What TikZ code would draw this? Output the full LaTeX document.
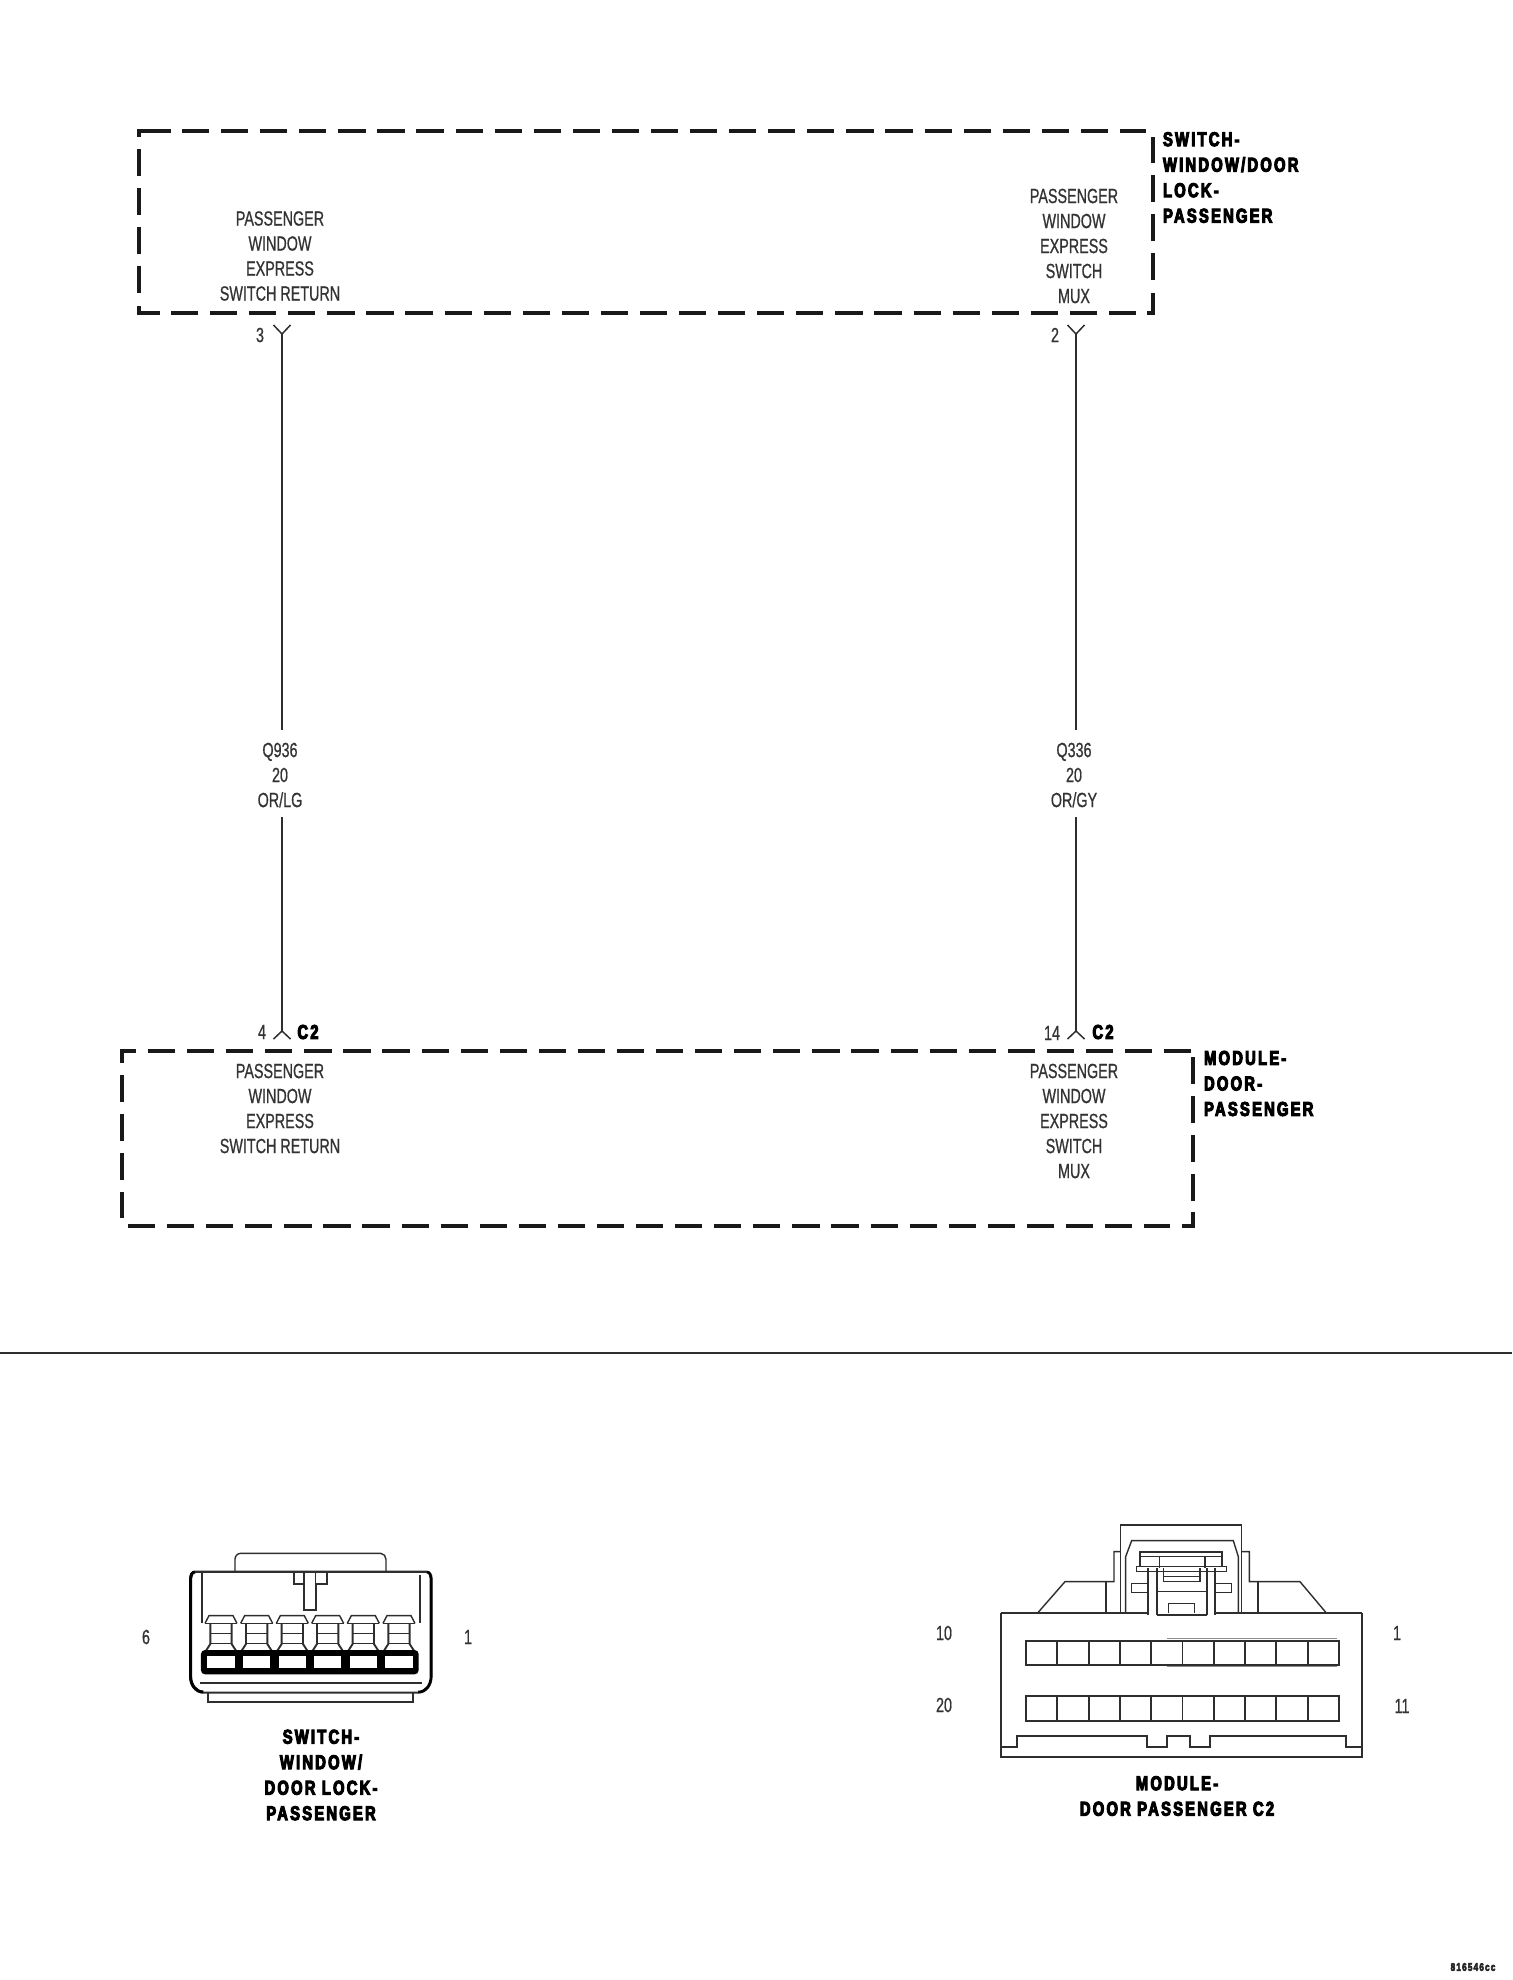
\documentclass[tikz,border=0pt]{standalone}
\usepackage{fontspec}
\setmainfont{Liberation Sans}
\newfontfamily\lblfont[FakeStretch=0.7,FakeBold=0.7]{Liberation Sans}
\newfontfamily\blkfont[FakeStretch=0.74,FakeBold=5,LetterSpace=11]{Liberation Sans Bold}
\definecolor{ink}{HTML}{2E2E2E}
\definecolor{lblgray}{HTML}{333333}
\tikzset{
  lbl/.style={inner sep=0pt,outer sep=0pt,align=center,text=lblgray,font=\lblfont\fontsize{20.5}{25}\selectfont},
  blk/.style={inner sep=0pt,outer sep=0pt,align=left,text=black,font=\blkfont\fontsize{20}{25.5}\selectfont},
  blkc/.style={blk,align=center},
  tiny/.style={inner sep=0pt,outer sep=0pt,text=black!85,font=\blkfont\fontsize{11}{12}\selectfont},
  wire/.style={ink,line width=1.7pt},
  fork/.style={ink,line width=1.5pt},
  dashrun/.style={black!90,line width=3.4pt,dash pattern=on 27.2pt off 11.88pt},
  corner/.style={black!90,line width=3.4pt,miter limit=10},
  ln/.style={ink,line width=1.4pt},
  lnb/.style={ink,line width=1.9pt},
  smear/.style={black!45,line width=1.6pt},
}
\begin{document}
\begin{tikzpicture}[x=1pt,y=-1pt]
\useasboundingbox (0,0) rectangle (1512,1980);
\fill[white] (0,0) rectangle (1512,1980);

% --- top box
\coordinate (t1) at (139,137); \coordinate (t2) at (139,131); \coordinate (t3) at (171,131);
\draw[corner] (t1) -- (t2) -- (t3);
\coordinate (t4) at (182,131); \coordinate (t5) at (1146,131);
\draw[dashrun] (t4) -- (t5);
\coordinate (t6) at (1153,280); \coordinate (t7) at (1153,137);
\draw[dashrun] (t6) -- (t7);
\coordinate (t8) at (1153,293); \coordinate (t9) at (1153,313); \coordinate (t10) at (1147,313);
\draw[corner] (t8) -- (t9) -- (t10);
\coordinate (t11) at (171,313); \coordinate (t12) at (1136,313);
\draw[dashrun] (t11) -- (t12);
\coordinate (t13) at (139,306); \coordinate (t14) at (139,313); \coordinate (t15) at (160,313);
\draw[corner] (t13) -- (t14) -- (t15);
\coordinate (t16) at (139,149); \coordinate (t17) at (139,293);
\draw[dashrun] (t16) -- (t17);

% --- bottom box
\coordinate (b1) at (122,1063); \coordinate (b2) at (122,1051); \coordinate (b3) at (136,1051);
\draw[corner] (b1) -- (b2) -- (b3);
\coordinate (b4) at (148,1051); \coordinate (b5) at (1194,1051);
\draw[dashrun] (b4) -- (b5);
\coordinate (b6) at (1193,1057); \coordinate (b7) at (1193,1202);
\draw[dashrun] (b6) -- (b7);
\coordinate (b8) at (1193,1212); \coordinate (b9) at (1193,1226); \coordinate (b10) at (1182,1226);
\draw[corner] (b8) -- (b9) -- (b10);
\coordinate (b11) at (128,1226); \coordinate (b12) at (1170,1226);
\draw[dashrun] (b11) -- (b12);
\coordinate (b13) at (122,1075); \coordinate (b14) at (122,1218);
\draw[dashrun] (b13) -- (b14);

% --- box labels
\node[lbl] (tl) at (280,256) {PASSENGER\\WINDOW\\EXPRESS\\SWITCH RETURN};
\node[lbl] (tr) at (1074,246) {PASSENGER\\WINDOW\\EXPRESS\\SWITCH\\MUX};
\node[lbl] (bl) at (280,1108.5) {PASSENGER\\WINDOW\\EXPRESS\\SWITCH RETURN};
\node[lbl] (br) at (1074,1121) {PASSENGER\\WINDOW\\EXPRESS\\SWITCH\\MUX};
\node[blk,anchor=west] (swlbl) at (1163,177.5) {SWITCH-\\WINDOW/DOOR\\LOCK-\\PASSENGER};
\node[blk,anchor=west] (modlbl) at (1204,1083.5) {MODULE-\\DOOR-\\PASSENGER};

% --- pins and wires
\coordinate (p3) at (282,334); \coordinate (p3a) at (273.5,325); \coordinate (p3b) at (290.5,325);
\coordinate (p2) at (1076,334); \coordinate (p2a) at (1067.5,325); \coordinate (p2b) at (1084.5,325);
\coordinate (p4) at (282,1031); \coordinate (p4a) at (273.5,1039); \coordinate (p4b) at (290.5,1039);
\coordinate (p14) at (1076,1031); \coordinate (p14a) at (1067.5,1039); \coordinate (p14b) at (1084.5,1039);
\draw[fork] (p3a) -- (p3) -- (p3b);
\draw[fork] (p2a) -- (p2) -- (p2b);
\draw[fork] (p4a) -- (p4) -- (p4b);
\draw[fork] (p14a) -- (p14) -- (p14b);

\node[lbl] (wl) at (280,775) {Q936\\20\\OR/LG};
\node[lbl] (wr) at (1074,775) {Q336\\20\\OR/GY};
\coordinate (wlt) at (282,730); \coordinate (wlb) at (282,817);
\coordinate (wrt) at (1076,730); \coordinate (wrb) at (1076,817);
\draw[wire] (p3) -- (wlt);
\draw[wire] (wlb) -- (p4);
\draw[wire] (p2) -- (wrt);
\draw[wire] (wrb) -- (p14);

\node[lbl] (n3) at (260,335) {3};
\node[lbl] (n2) at (1055,335) {2};
\node[lbl] (n4) at (262,1032) {4};
\node[lbl] (n14) at (1052,1033) {14};
\node[blk] (c2a) at (308,1032) {C2};
\node[blk] (c2b) at (1103,1032) {C2};

% --- separator
\coordinate (s1) at (0,1353); \coordinate (s2) at (1512,1353);
\draw[ink,line width=1.3pt] (s1) -- (s2);

% --- left connector
\begin{scope}[shift={(150,1500)},x=0.3333pt,y=-0.3333pt]
  \draw[ln] (255,215) -- (255,178) to[out=90,in=180] (272,160) -- (692,160) to[out=0,in=90] (708,178) -- (708,215);
  \draw[lnb,fill=white] (135,215) -- (830,215) to[out=0,in=90] (845,235) -- (845,530) to[out=-90,in=0] (805,578) -- (160,578) to[out=180,in=-90] (120,530) -- (120,235) to[out=90,in=180] (135,215) -- cycle;
  \draw[black,line width=3pt] (135,216) to[out=180,in=90] (122,235) -- (122,530) to[out=-90,in=180] (160,576);
  \draw[black,line width=2.6pt] (830,216) to[out=0,in=90] (843,235) -- (843,530) to[out=-90,in=0] (805,576);
  \draw[ink,line width=2.2pt] (135,215) -- (830,215);
  \draw[lnb] (155,220) -- (155,370);
  \draw[lnb] (810,225) -- (810,370);
  \draw[lnb] (150,550) -- (815,550);
  \draw[lnb] (175,578) -- (175,607) -- (790,607) -- (790,578);
  \draw[lnb] (432,220) -- (432,252) -- (462,252) -- (462,330) -- (497,330) -- (497,252) -- (530,252) -- (530,220);
  \draw[ln] (462,220) -- (462,252);
  \draw[ln] (497,220) -- (497,252);
  \foreach \c in {213,320,427,533,640,747} {
    \draw[ln] (\c-48,370) -- (\c-36,347) -- (\c+36,347) -- (\c+48,370);
    \draw[ln] (\c-48,370) -- (\c+48,370);
    \draw[lnb] (\c-32,370) -- (\c-32,432) -- (\c-45,452);
    \draw[lnb] (\c+32,370) -- (\c+32,432) -- (\c+45,452);
    \draw[ln] (\c-32,400) -- (\c+32,400);
    \draw[ln] (\c-32,430) -- (\c+32,430);
  }
  \fill[black,rounded corners=4pt] (153,450) rectangle (806,523);
  \foreach \c in {213,320,427,533,640,747} {
    \fill[white] (\c-41,468) rectangle (\c+41,505);
  }
\end{scope}

% --- right connector
\begin{scope}[shift={(960,1500)},x=0.3333pt,y=-0.3333pt]
  \draw[ln] (232,340) -- (315,245) -- (462,245) -- (462,155) -- (482,155);
  \draw[ln] (845,155) -- (868,155) -- (868,245) -- (1020,245) -- (1100,340);
  \draw[lnb] (438,245) -- (438,340);
  \draw[lnb] (893,245) -- (893,340);
  \draw[ln] (482,340) -- (482,75) -- (845,75) -- (845,340);
  \draw[ln] (497,340) -- (497,170) -- (515,122) -- (820,122) -- (835,170) -- (835,340);
  \draw[lnb] (540,200) -- (540,155) -- (785,155) -- (785,200);
  \draw[ln] (540,170) -- (785,170);
  \draw[ln] (530,200) rectangle (800,215);
  \draw[ln] (515,250) -- (565,250);
  \draw[ln] (515,278) -- (565,278);
  \draw[ln] (515,250) -- (515,278);
  \draw[ln] (765,250) -- (815,250) -- (815,278) -- (765,278);
  \draw[lnb] (565,205) -- (565,345);
  \draw[lnb] (590,205) -- (590,345);
  \draw[lnb] (742,205) -- (742,345);
  \draw[lnb] (765,205) -- (765,345);
  \draw[ln] (598,170) -- (598,205);
  \draw[ln] (735,170) -- (735,205);
  \draw[ln] (610,205) -- (610,245) -- (720,245) -- (720,205);
  \draw[ln] (610,230) -- (720,230);
  \draw[ln] (590,275) -- (742,275);
  \draw[ln] (625,340) -- (625,310) -- (703,310) -- (703,340);
  \draw[lnb] (122,340) -- (565,340);
  \draw[lnb] (765,340) -- (1207,340);
  \draw[lnb] (590,345) -- (742,345);
  \draw[lnb] (122,340) -- (122,770) -- (1207,770) -- (1207,340);
  \draw[lnb] (122,740) -- (172,740) -- (172,707) -- (560,707) -- (560,740) -- (622,740) -- (622,707) -- (690,707) -- (690,740) -- (750,740) -- (750,707) -- (1157,707) -- (1157,740) -- (1207,740);
  \draw[smear] (620,416) -- (1130,416);
  \draw[smear] (620,500) -- (1130,500);
  \draw[lnb] (198,422) rectangle (1137,495);
  \draw[lnb] (198,587) rectangle (1137,663);
  \foreach \i in {1,...,9} {
    \draw[lnb] ({198+93.9*\i},422) -- ({198+93.9*\i},495);
    \draw[lnb] ({198+93.9*\i},587) -- ({198+93.9*\i},663);
  }
\end{scope}

% --- connector labels
\node[lbl] (c6) at (146,1637) {6};
\node[lbl] (c1) at (468,1637) {1};
\node[lbl] (d10) at (944,1633) {10};
\node[lbl] (d20) at (944,1705) {20};
\node[lbl] (d1) at (1397,1633) {1};
\node[lbl] (d11) at (1402,1706) {11};
\node[blkc] (capl) at (321,1775) {SWITCH-\\WINDOW/\\DOOR LOCK-\\PASSENGER};
\node[blkc] (capr) at (1177,1796) {MODULE-\\DOOR PASSENGER C2};
\node[tiny] (code) at (1473,1967) {816546cc};
\end{tikzpicture}
\end{document}
